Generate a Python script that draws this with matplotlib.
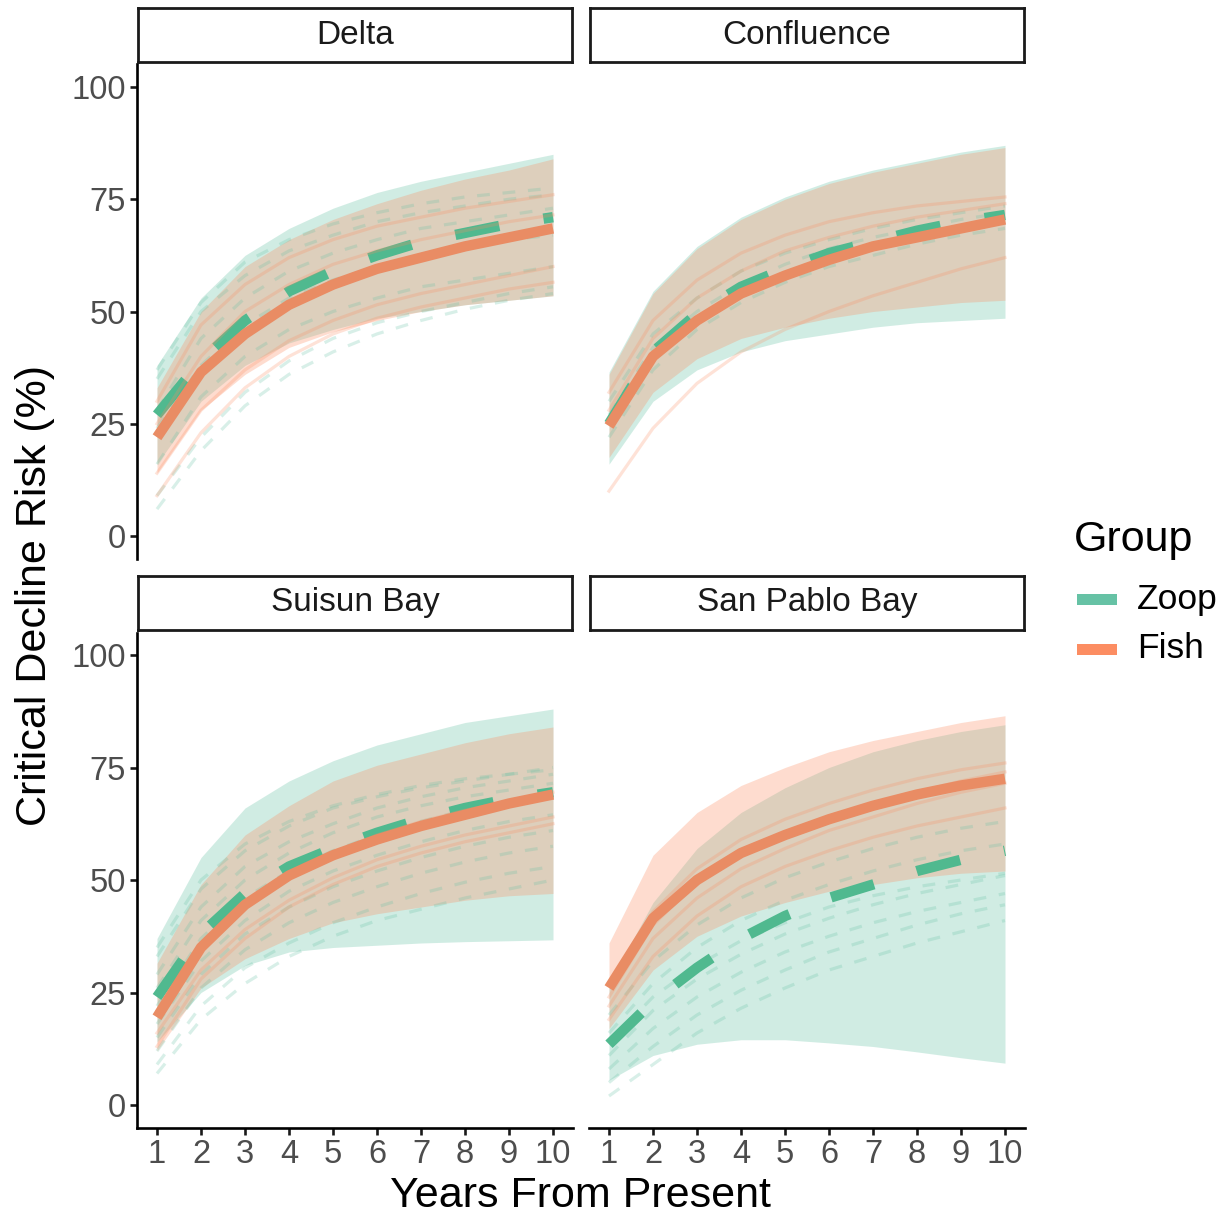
import matplotlib
matplotlib.use("Agg")
import matplotlib.pyplot as plt
from matplotlib.patches import Rectangle
import numpy as np

plt.rcParams['font.family'] = ['Liberation Sans', 'DejaVu Sans']

years = [1, 2, 3, 4, 5, 6, 7, 8, 9, 10]
panel_names = ["Delta", "Confluence", "Suisun Bay", "San Pablo Bay"]
groups = ["Zoop", "Fish"]
zoop_color = "#66C2A5"
fish_color = "#FC8D62"
zoop_mean_color = "#50B98F"
fish_mean_color = "#E98C64"

# ---- Delta ----
delta_zoop_mean = [27, 39, 48, 54.5, 59, 62.5, 65.5, 67.5, 69.5, 71]
delta_zoop_lo = [16, 30, 38, 43, 46, 48.5, 50, 51.5, 52.5, 53.5]
delta_zoop_hi = [38, 53, 62.5, 68.5, 73, 76.5, 79, 81, 83, 85]
delta_fish_mean = [22, 36.5, 45, 51.5, 56, 59.5, 62, 64.5, 66.5, 68.5]
delta_fish_lo = [14, 28, 36, 42, 45.5, 48, 50, 51.5, 52.5, 53.5]
delta_fish_hi = [33, 50, 60, 66, 70.5, 74, 77, 79.5, 81.5, 84]
delta_zoop_sp = [
    [6, 19, 29, 36, 41, 45, 48, 50.5, 52.5, 54],
    [9, 22, 32, 39, 44, 47.5, 50, 52, 54, 55.5],
    [16, 31, 40, 46, 50, 53, 55.5, 57, 58.5, 60],
    [37, 52, 61, 66, 69.5, 72, 74, 75.5, 76.5, 77.5],
    [35, 50, 58, 63.5, 67, 70, 72, 73.5, 75, 76],
    [28, 44, 53, 59, 63, 66, 68.5, 70, 71.5, 73],
    [24, 38, 47, 53, 57, 60, 62.5, 64.5, 66, 67],
]
delta_fish_sp = [
    [9, 23, 33, 40, 45, 48.5, 51, 53, 55, 56.5],
    [14, 28, 37, 43.5, 48, 51.5, 54, 56, 58, 60],
    [30, 47, 56, 62, 66, 69, 71, 73, 74.5, 76],
    [25, 40, 50, 56, 60.5, 63.5, 66, 68, 70, 71.5],
]

# ---- Confluence ----
conf_zoop_mean = [25, 41, 49.5, 55.5, 59.5, 63, 65.5, 68, 70, 71.5]
conf_zoop_lo = [16, 30, 37, 41, 43.5, 45, 46.5, 47.5, 48, 48.5]
conf_zoop_hi = [36.5, 54.5, 64.5, 71, 75.5, 79, 81.5, 83.5, 85.5, 87]
conf_fish_mean = [24.5, 40, 48, 54, 58, 61.5, 64.5, 66.5, 68.5, 70.5]
conf_fish_lo = [17.5, 32, 39.5, 44, 46.5, 48.5, 50, 51, 52, 52.5]
conf_fish_hi = [36, 54, 64, 70.5, 75, 78.5, 81, 83, 85, 86.5]
conf_zoop_sp = [
    [30, 45, 53, 59, 63, 66, 68.5, 70.5, 72, 73.5],
    [22, 37, 46, 52, 56.5, 60, 62.5, 65, 67, 68.5],
    [27, 42, 50, 56, 60.5, 64, 66.5, 68.5, 70.5, 72],
]
conf_fish_sp = [
    [10, 24, 34, 41, 46, 50, 53.5, 56.5, 59.5, 62],
    [32, 48, 57, 63, 67, 70, 72, 73.5, 74.5, 75.5],
    [28, 44, 53, 59, 63.5, 66.5, 69, 71, 72.5, 74],
]

# ---- Suisun Bay ----
suisun_zoop_mean = [24, 38, 47, 53, 57, 60.5, 63.5, 66, 68, 69.5]
suisun_zoop_lo = [14, 25, 31, 34, 35, 35.5, 36, 36.3, 36.5, 36.7]
suisun_zoop_hi = [37, 55, 66, 72, 76.5, 80, 82.5, 85, 86.5, 88]
suisun_fish_mean = [19.5, 35, 44.5, 51, 55.5, 59, 62, 64.5, 67, 69]
suisun_fish_lo = [12, 26, 32.5, 37, 40.5, 42.5, 44, 45.5, 46.5, 47]
suisun_fish_hi = [31.5, 49, 60, 66.5, 72, 75.5, 78, 80.5, 82.5, 84]
suisun_zoop_sp = [
    [7, 19, 27, 33, 37.5, 41, 43.5, 46, 48, 50],
    [9, 22, 30.5, 36, 40.5, 44, 47, 49.5, 51.5, 53],
    [12, 26, 34.5, 40.5, 45, 48.5, 51.5, 54, 56, 57.5],
    [15, 29, 38, 44, 48.5, 52, 55, 57.5, 59.5, 61],
    [18, 32, 41, 47.5, 52, 55.5, 58.5, 61, 63, 64.5],
    [22, 37, 46, 52, 56.5, 60, 63, 65.5, 67.5, 69],
    [26, 41, 50, 56, 60.5, 64, 66.5, 68.5, 70, 71.5],
    [29, 44, 53, 58.5, 62.5, 66, 68.5, 70.5, 72, 73.5],
    [33, 48, 56.5, 62, 66, 68.5, 70.5, 72, 73.5, 75],
    [35, 50, 58, 63, 66.5, 69, 71, 72.5, 73.5, 74.5],
]
suisun_fish_sp = [
    [13, 28, 37, 44, 49, 53, 56, 58.5, 60.5, 62.5],
    [16, 30, 39, 45.5, 50.5, 54.5, 57.5, 60, 62, 64],
    [21, 36, 45, 51.5, 56, 60, 63, 65.5, 67.5, 69.5],
]

# ---- San Pablo Bay ----
sp_zoop_mean = [13.5, 23, 30.5, 37, 42, 46, 49, 52, 54.5, 56.5]
sp_zoop_lo = [5.5, 11, 13.5, 14.5, 14.5, 13.8, 13, 11.8, 10.5, 9.3]
sp_zoop_hi = [27, 45, 57, 65, 70.5, 75, 78.5, 81, 83, 84.5]
sp_fish_mean = [26, 41.5, 50, 56, 60, 63.5, 66.5, 69, 71, 72.5]
sp_fish_lo = [17, 30, 37.5, 42, 45, 47.5, 49, 50.5, 51.5, 52]
sp_fish_hi = [36, 55.5, 65, 71, 75, 78.5, 81, 83, 85, 86.5]
sp_zoop_sp = [
    [2, 9, 16, 21.5, 26, 30, 33, 36, 38.5, 41],
    [5, 13, 20, 25.5, 30, 34, 37, 40, 42.5, 44.5],
    [8, 17, 24, 29.5, 34, 37.5, 40.5, 43, 45, 47],
    [11, 21, 28, 33.5, 38, 41.5, 44.5, 47, 49, 51],
    [16, 27, 35, 41, 45.5, 49, 52, 54.5, 56.5, 58],
    [20, 32, 40, 46, 50.5, 54, 57, 59.5, 61.5, 63],
    [14, 24, 31, 36.5, 40.5, 44, 46.5, 48.5, 50, 51.5],
]
sp_fish_sp = [
    [22, 37, 46, 52.5, 57, 61, 64, 67, 69.5, 71.5],
    [24, 40, 49.5, 56, 60.5, 64, 67, 69.5, 72, 74],
    [27, 43, 52.5, 59, 63.5, 67, 70, 72.5, 74.5, 76],
    [19, 33, 42, 48.5, 53, 56.5, 59.5, 62, 64, 66],
]

panels = [
    (delta_zoop_mean, delta_zoop_lo, delta_zoop_hi, delta_zoop_sp,
     delta_fish_mean, delta_fish_lo, delta_fish_hi, delta_fish_sp),
    (conf_zoop_mean, conf_zoop_lo, conf_zoop_hi, conf_zoop_sp,
     conf_fish_mean, conf_fish_lo, conf_fish_hi, conf_fish_sp),
    (suisun_zoop_mean, suisun_zoop_lo, suisun_zoop_hi, suisun_zoop_sp,
     suisun_fish_mean, suisun_fish_lo, suisun_fish_hi, suisun_fish_sp),
    (sp_zoop_mean, sp_zoop_lo, sp_zoop_hi, sp_zoop_sp,
     sp_fish_mean, sp_fish_lo, sp_fish_hi, sp_fish_sp),
]

W, H = 1224, 1220
fig = plt.figure(figsize=(W / 100, H / 100), dpi=100)


def box(x0, y0, x1, y1):
    # pixel box (top-left origin) -> figure fraction rect
    return [x0 / W, 1 - y1 / H, (x1 - x0) / W, (y1 - y0) / H]


panel_px = [(137.2, 64.5, 572.8, 558.5), (589.2, 64.5, 1024.8, 558.5),
            (137.2, 632.5, 572.8, 1127.5), (589.2, 632.5, 1024.8, 1127.5)]
strip_px = [(138, 8, 572, 62), (590, 8, 1024, 62),
            (138, 576, 572, 630), (590, 576, 1024, 630)]

x = np.array(years)
for i, name in enumerate(panel_names):
    zm, zlo, zhi, zsp, fm, flo, fhi, fsp = panels[i]
    ax = fig.add_axes(box(*panel_px[i]))
    # zoop layer first, fish layer drawn on top (like ggplot group order)
    ax.fill_between(x, zlo, zhi, color=zoop_color, alpha=0.3, lw=0)
    for s in zsp:
        ax.plot(x, s, color=zoop_color, alpha=0.25, lw=2.3, ls=(0, (4, 4)))
    ax.plot(x, zm, color=zoop_mean_color, lw=7.5, ls=(0, (4.3, 4.3)))
    ax.fill_between(x, flo, fhi, color=fish_color, alpha=0.3, lw=0)
    for s in fsp:
        ax.plot(x, s, color=fish_color, alpha=0.25, lw=2.3)
    ax.plot(x, fm, color=fish_mean_color, lw=7.5, solid_capstyle='butt')

    ax.set_xlim(0.55, 10.45)
    ax.set_ylim(-5, 105)
    ax.set_xticks(years)
    ax.set_yticks([0, 25, 50, 75, 100])
    for sp in ax.spines.values():
        sp.set_visible(False)
    left = i % 2 == 0
    bottom = i >= 2
    ax.spines['left'].set_visible(left)
    ax.spines['bottom'].set_visible(bottom)
    ax.spines['left'].set_linewidth(1.9)
    ax.spines['bottom'].set_linewidth(1.9)
    ax.tick_params(axis='both', length=5, width=1.9, colors='#1a1a1a',
                   labelcolor='#4D4D4D', labelsize=23.5, pad=3)
    if not left:
        ax.tick_params(axis='y', left=False, labelleft=False)
    if not bottom:
        ax.tick_params(axis='x', bottom=False, labelbottom=False)
    ax.set_facecolor('none')

    sax = fig.add_axes(box(*strip_px[i]))
    sax.set_xticks([])
    sax.set_yticks([])
    for sp in sax.spines.values():
        sp.set_linewidth(2)
        sp.set_color('#1a1a1a')
    sax.text(0.5, 0.5, name, ha='center', va='center', fontsize=24,
             color='#1a1a1a', transform=sax.transAxes)

fig.text(581 / W, 1 - 1196 / H, "Years From Present", ha='center', va='center',
         fontsize=31)
fig.text(35 / W, 1 - 596 / H, "Critical Decline Risk (%)", ha='center',
         va='center', rotation=90, fontsize=31)

# legend
fig.text(1074 / W, 1 - 540 / H, "Group", ha='left', va='center', fontsize=31)
for j, (lab, col) in enumerate(zip(groups, [zoop_color, fish_color])):
    yc = 599 + j * 50
    fig.add_artist(Rectangle((1077 / W, 1 - (yc + 5.5) / H), 40 / W, 11 / H,
                             transform=fig.transFigure, color=col, lw=0))
    fig.text(1137 / W, 1 - yc / H, lab, ha='left', va='center', fontsize=25.5)

fig.savefig("out.png", dpi=100)
